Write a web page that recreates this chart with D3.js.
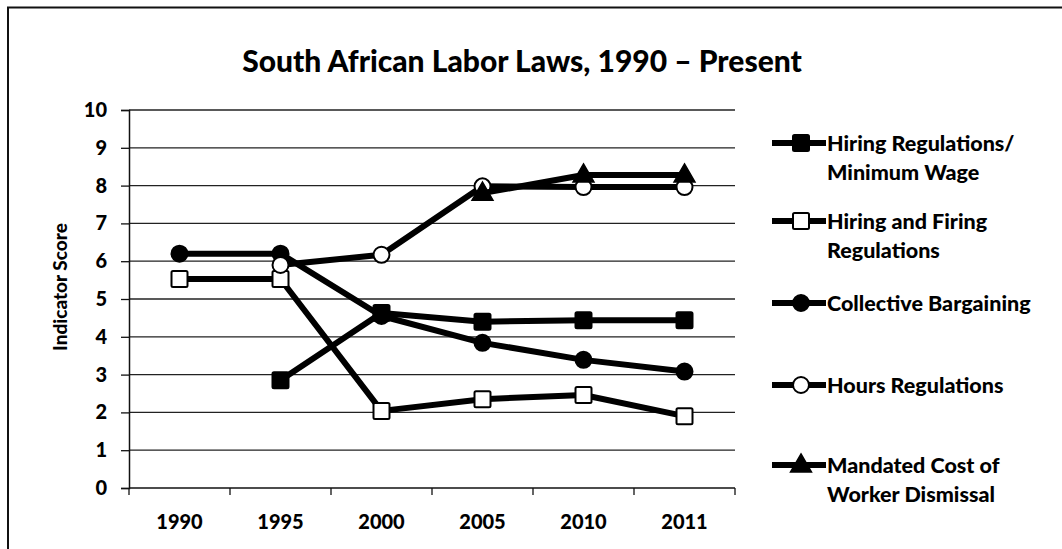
<!DOCTYPE html>
<html>
<head>
<meta charset="utf-8">
<script src="https://cdn.jsdelivr.net/npm/d3@7"></script>
<style>
  html, body { margin: 0; padding: 0; background: #fff; }
  svg { display: block; }
  text { font-family: Lato, "Open Sans", "DejaVu Sans", sans-serif; font-weight: 900; fill: #000; }
</style>
</head>
<body>
<svg id="chart" width="1062" height="549"></svg>
<script>
// Survey years on the category axis
const years = ["1990", "1995", "2000", "2005", "2010", "2011"];
const yTicks = [0, 1, 2, 3, 4, 5, 6, 7, 8, 9, 10];

// Indicator scores per series (null = not reported)
const hiringMinWage   = [null, 2.85, 4.63, 4.4, 4.44, 4.44];
const hiringFiring    = [5.53, 5.53, 2.04, 2.35, 2.46, 1.9];
const collective      = [6.2, 6.2, 4.55, 3.84, 3.39, 3.08];
const hoursRegs       = [null, 5.9, 6.17, 7.98, 7.96, 7.96];
const dismissalCost   = [null, null, null, 7.8, 8.28, 8.28];

const seriesNames = [
  ["Hiring Regulations/", "Minimum Wage"],
  ["Hiring and Firing", "Regulations"],
  ["Collective Bargaining"],
  ["Hours Regulations"],
  ["Mandated Cost of", "Worker Dismissal"]
];
const seriesValues = [hiringMinWage, hiringFiring, collective, hoursRegs, dismissalCost];
const seriesMarkers = ["squareFilled", "squareOpen", "circleFilled", "circleOpen", "triangle"];

const svg = d3.select("#chart");

// Outer frame (top and left edges)
svg.append("path")
  .attr("d", "M8,549 L8,7.5 L1062,7.5")
  .attr("fill", "none").attr("stroke", "#111").attr("stroke-width", 2);

const plot = { left: 129, right: 735, top: 110, bottom: 488 };

const x = d3.scaleBand().domain(years).range([plot.left, plot.right]).padding(0);
const cx = d => x(d) + x.bandwidth() / 2;
const y = d3.scaleLinear().domain([0, 10]).range([plot.bottom, plot.top]);

// Title
svg.append("text")
  .attr("x", 522).attr("y", 72)
  .attr("text-anchor", "middle")
  .attr("font-size", 30)
  .text("South African Labor Laws, 1990 \u2013 Present");

// Horizontal gridlines
svg.append("g").selectAll("line")
  .data(yTicks.filter(t => t > 0))
  .join("line")
  .attr("x1", plot.left).attr("x2", plot.right)
  .attr("y1", d => y(d)).attr("y2", d => y(d))
  .attr("stroke", "#222").attr("stroke-width", 1.3);

// Y axis
const yAxis = d3.axisLeft(y).tickValues(yTicks).tickSize(8).tickPadding(14).tickFormat(d3.format("d"));
const gy = svg.append("g").attr("transform", `translate(${plot.left},0)`).call(yAxis);
gy.attr("font-size", null).attr("font-family", null);
gy.select(".domain").attr("stroke", "#111").attr("stroke-width", 1.5);
gy.selectAll(".tick line").attr("stroke", "#111").attr("stroke-width", 1.3);
gy.selectAll(".tick text").style("font-size", "20px").style("font-weight", "900");

// X axis: ticks sit on the category boundaries
const gx = svg.append("g").attr("transform", `translate(0,${plot.bottom})`);
gx.append("line").attr("x1", plot.left).attr("x2", plot.right)
  .attr("stroke", "#111").attr("stroke-width", 1.5);
gx.selectAll("line.tk")
  .data(years.map(d => x(d)).concat([plot.right]))
  .join("line").attr("class", "tk")
  .attr("x1", d => d).attr("x2", d => d).attr("y1", 0).attr("y2", 7)
  .attr("stroke", "#111").attr("stroke-width", 1.3);
gx.selectAll("text")
  .data(years)
  .join("text")
  .attr("x", d => cx(d)).attr("y", 41)
  .attr("text-anchor", "middle").style("font-size", "20px")
  .text(d => d);

// Y axis title
svg.append("text")
  .attr("transform", `translate(67,${(plot.top + plot.bottom) / 2 - 12}) rotate(-90)`)
  .attr("text-anchor", "middle").style("font-size", "19px")
  .text("Indicator Score");

// Marker drawing
function drawMarker(g, type, px, py) {
  if (type === "squareFilled" || type === "squareOpen") {
    g.append("rect").attr("x", px - 8).attr("y", py - 8).attr("width", 16).attr("height", 16)
      .attr("rx", 1.5)
      .attr("fill", type === "squareFilled" ? "#000" : "#fff")
      .attr("stroke", "#000").attr("stroke-width", 2);
  } else if (type === "circleFilled" || type === "circleOpen") {
    g.append("circle").attr("cx", px).attr("cy", py).attr("r", 8)
      .attr("fill", type === "circleFilled" ? "#000" : "#fff")
      .attr("stroke", "#000").attr("stroke-width", 2);
  } else {
    g.append("path")
      .attr("d", d3.symbol().type(d3.symbolTriangle).size(190)())
      .attr("transform", `translate(${px},${py + 1})`)
      .attr("fill", "#000").attr("stroke", "#000").attr("stroke-width", 1.5);
  }
}

// Series lines and markers
const line = d3.line()
  .defined(d => d.v !== null)
  .x(d => cx(d.year))
  .y(d => y(d.v));

seriesValues.forEach((vals, i) => {
  const pts = years.map((yr, j) => ({ year: yr, v: vals[j] }));
  const g = svg.append("g");
  g.append("path").datum(pts)
    .attr("d", line)
    .attr("fill", "none").attr("stroke", "#000")
    .attr("stroke-width", 6).attr("stroke-linejoin", "round");
  pts.filter(p => p.v !== null).forEach(p => drawMarker(g, seriesMarkers[i], cx(p.year), y(p.v)));
});

// Legend
const legendY = [143, 221, 303, 385, 465];
seriesNames.forEach((lines, i) => {
  const g = svg.append("g");
  const ly = legendY[i];
  g.append("line").attr("x1", 772).attr("x2", 826).attr("y1", ly).attr("y2", ly)
    .attr("stroke", "#000").attr("stroke-width", 6);
  drawMarker(g, seriesMarkers[i], 801, ly);
  lines.forEach((t, k) => {
    g.append("text").attr("x", 827).attr("y", ly + 8 + k * 29)
      .style("font-size", "21.5px").text(t);
  });
});
</script>
</body>
</html>
